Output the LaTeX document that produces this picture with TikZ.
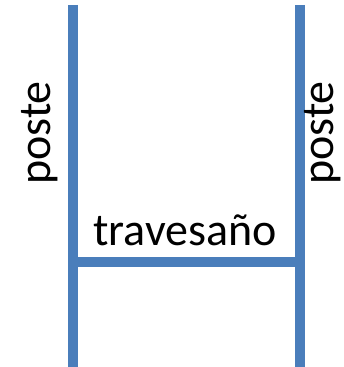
\documentclass[tikz,border=0pt]{standalone}
\usepackage{fontspec}
\setmainfont{Carlito}
\definecolor{postblue}{RGB}{74,126,187}

\begin{document}
\begin{tikzpicture}[
    x=1pt, y=1pt,
    bar/.style={draw=postblue, line width=10pt},
    lbl/.style={inner sep=0pt, font=\fontsize{46}{52}\selectfont}
]
    \useasboundingbox (0,0) rectangle (343,367);

    % Draw posts and crossbar
    \coordinate (lt) at (72.5,362);
    \coordinate (lb) at (72.5,0);
    \coordinate (rt) at (299.5,362);
    \coordinate (rb) at (299.5,0);
    \coordinate (lc) at (72.5,105);
    \coordinate (rc) at (299.5,105);
    \draw[bar] (lt) -- (lb);
    \draw[bar] (rt) -- (rb);
    \draw[bar] (lc) -- (rc);

    % Draw labels
    \node[lbl, rotate=90, anchor=base] (posteleft) at (50,234) {poste};
    \node[lbl, rotate=90, anchor=base] (posteright) at (333,234) {poste};
    \node[lbl, anchor=base] (travesano) at (185,121) {travesaño};

\end{tikzpicture}
\end{document}
